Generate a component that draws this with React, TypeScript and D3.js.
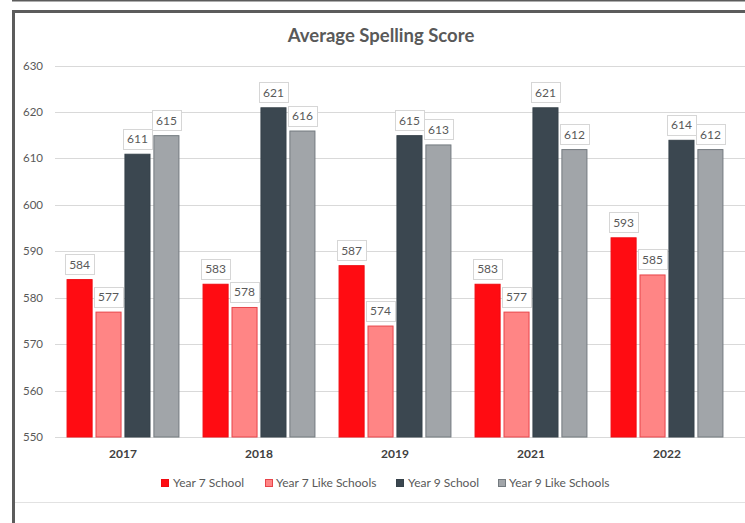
import React from "react";
import * as d3 from "d3";

const categories = ["2017", "2018", "2019", "2021", "2022"];
const seriesNames = ["Year 7 School", "Year 7 Like Schools", "Year 9 School", "Year 9 Like Schools"];
const year7School = [584, 583, 587, 583, 593];
const year7Like = [577, 578, 574, 577, 585];
const year9School = [611, 621, 615, 621, 614];
const year9Like = [615, 616, 613, 612, 612];
const yTicks = [550, 560, 570, 580, 590, 600, 610, 620, 630];

const seriesValues = [year7School, year7Like, year9School, year9Like];
const fills = ["#FF0C12", "#FF8585", "#3B4750", "#A1A5A9"];
const strokes = ["#F00A10", "#E8444A", "#36424A", "#737A7F"];

const FONT = "Lato, 'Open Sans', sans-serif";

export default function App() {
  const W = 745;
  const H = 523;
  const y = d3.scaleLinear().domain([550, 630]).range([437, 65.5]);
  const x = d3.scaleBand<string>().domain(categories).range([55, 735]).paddingInner(0.17).paddingOuter(0.085);
  const xi = d3.scaleBand<number>().domain([0, 1, 2, 3]).range([0, x.bandwidth()]).paddingInner(0.1);

  const legendX = [161, 265, 396, 498];

  return (
    <svg width={W} height={H} style={{ position: "absolute", left: 0, top: 0, background: "#fff" }}>
      <rect x={0} y={0} width={W} height={H} fill="#fff" />
      <line x1={12} x2={W} y1={0.8} y2={0.8} stroke="#5c5c5c" strokeWidth={1.6} />
      <path d={`M13.5,${H} L13.5,11.5 L${W},11.5`} fill="none" stroke="#5c5c5c" strokeWidth={3} />
      <line x1={15} x2={W} y1={502.5} y2={502.5} stroke="#e2e2e2" strokeWidth={1} />

      <text x={381} y={42} textAnchor="middle" fontFamily={FONT} fontSize={18.5} fontWeight={700} fill="#595959">
        Average Spelling Score
      </text>

      {yTicks.map((t) => (
        <g key={t}>
          <line x1={55} x2={W} y1={Math.round(y(t)) + 0.5} y2={Math.round(y(t)) + 0.5} stroke="#d9d9d9" strokeWidth={1} />
          <text x={43} y={y(t) + 4} textAnchor="end" fontFamily={FONT} fontSize={11.5} fill="#595959">
            {t}
          </text>
        </g>
      ))}

      {categories.map((c, ci) => (
        <g key={c}>
          {seriesValues.map((vals, si) => {
            const bx = (x(c) as number) + (xi(si) as number);
            const bw = xi.bandwidth();
            const top = y(vals[ci]);
            const cx = bx + bw / 2;
            return (
              <g key={si}>
                <rect x={bx + 0.5} y={top + 0.5} width={bw - 1} height={y(550) - top - 0.5} fill={fills[si]} stroke={strokes[si]} strokeWidth={1} />
                <rect x={Math.round(cx - 14.5) + 0.5} y={Math.round(top - 25) + 0.5} width={29} height={20} fill="#fff" stroke="#d6d6d6" strokeWidth={1} />
                <text x={cx} y={top - 10.5} textAnchor="middle" fontFamily={FONT} fontSize={12} fill="#595959">
                  {vals[ci]}
                </text>
              </g>
            );
          })}
          <text x={(x(c) as number) + x.bandwidth() / 2} y={458} textAnchor="middle" fontFamily={FONT} fontSize={12} fontWeight={700} fill="#404040">
            {c}
          </text>
        </g>
      ))}

      {seriesNames.map((n, si) => (
        <g key={n}>
          <rect x={legendX[si] + 0.5} y={479.5} width={7} height={7} fill={fills[si]} stroke={strokes[si]} strokeWidth={1} />
          <text x={legendX[si] + (si === 0 || si === 2 ? 12 : 11)} y={487} fontFamily={FONT} fontSize={12} fill="#595959">
            {n}
          </text>
        </g>
      ))}
    </svg>
  );
}
